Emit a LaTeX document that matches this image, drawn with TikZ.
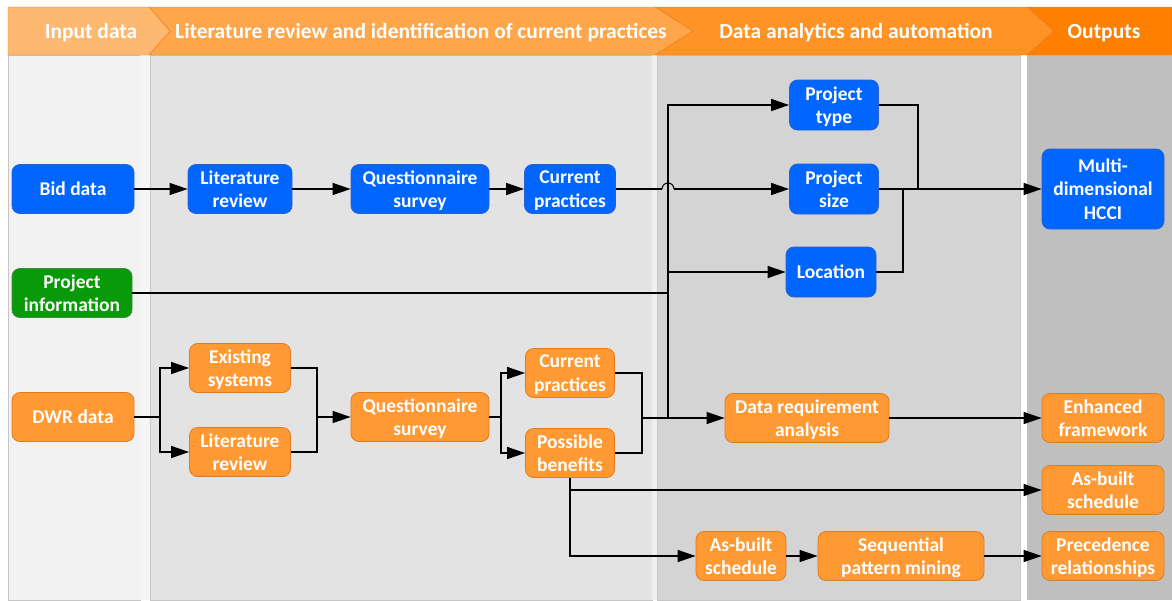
\documentclass[tikz,border=0pt]{standalone}
\usepackage{fontspec}
\setmainfont{Carlito}
\usetikzlibrary{arrows.meta,calc}
\definecolor{hdone}{HTML}{FFB870}
\definecolor{hdtwo}{HTML}{FFA54A}
\definecolor{hdthree}{HTML}{FF9326}
\definecolor{hdfour}{HTML}{FF8000}
\definecolor{hdline}{HTML}{E5781A}
\definecolor{laneone}{HTML}{F2F2F2}
\definecolor{lanetwo}{HTML}{E3E3E3}
\definecolor{lanethree}{HTML}{D4D4D4}
\definecolor{lanefour}{HTML}{BFBFBF}
\definecolor{nodeblue}{HTML}{0066FF}
\definecolor{nodeblueline}{HTML}{2A62C8}
\definecolor{nodeorange}{HTML}{FF9933}
\definecolor{nodeorangeline}{HTML}{E07A1E}
\definecolor{nodegreen}{HTML}{089A08}
\definecolor{nodegreenline}{HTML}{3C8C3C}

\begin{document}
\begin{tikzpicture}[x=1pt,y=-1pt,
    box/.style={rounded corners=8pt, line width=0.8pt, text=white, align=center,
        font=\fontsize{19.5}{23.5}\selectfont\bfseries, minimum height=49pt, inner sep=0pt,
        text depth=-2pt},
    bluebox/.style={box, fill=nodeblue, draw=nodeblueline},
    orangebox/.style={box, fill=nodeorange, draw=nodeorangeline},
    greenbox/.style={box, fill=nodegreen, draw=nodegreenline},
    headtext/.style={text=white, font=\fontsize{21.5}{25}\selectfont\bfseries},
    link/.style={line width=1.3pt},
    arr/.style={link, -{Triangle[length=18pt,width=12pt]}}]
    \useasboundingbox (0,0) rectangle (1172,600);
    % lanes
    \fill[white] (0,0) rectangle (1172,600);
    \draw[fill=laneone, draw=gray!45] (8,55) rectangle (140,600);
    \fill[gray!8] (140,55) rectangle (150,600);
    \draw[fill=lanetwo, draw=gray!45] (150,55) rectangle (652,600);
    \fill[gray!12] (652,55) rectangle (657,600);
    \draw[fill=lanethree, draw=gray!45] (657,55) rectangle (1020,600);
    \fill[lanefour] (1027,55) rectangle (1172,600);
    % header
    \draw[fill=hdfour, draw=hdline] (1027,7) -- (1172,7) -- (1172,55) -- (1027,55) -- (1054,31) -- cycle;
    \draw[fill=hdthree, draw=hdline] (655,7) -- (1027,7) -- (1054,31) -- (1027,55) -- (655,55) -- (693,31) -- cycle;
    \draw[fill=hdtwo, draw=hdline] (149,7) -- (655,7) -- (693,31) -- (655,55) -- (149,55) -- (170,31) -- cycle;
    \draw[fill=hdone, draw=hdline] (8,7) -- (149,7) -- (170,31) -- (149,55) -- (8,55) -- cycle;
    \node[headtext] (h1) at (91,33) {Input data};
    \node[headtext] (h2) at (421,33) {Literature review and identification of current practices};
    \node[headtext] (h3) at (856,33) {Data analytics and automation};
    \node[headtext] (h4) at (1104,33) {Outputs};

    % input data
    \node[bluebox, minimum width=122pt] (bid) at (73,189) {Bid data};
    \node[greenbox, minimum width=120pt] (pinfo) at (72,293) {Project\\information};
    \node[orangebox, minimum width=122pt] (dwr) at (73,417) {DWR data};
    % literature review
    \node[bluebox, minimum width=104pt] (lrb) at (240,189) {Literature\\review};
    \node[bluebox, minimum width=138pt] (qb) at (420,189) {Questionnaire\\survey};
    \node[bluebox, minimum width=91pt] (cpb) at (570,189) {Current\\practices};
    \node[orangebox, minimum width=101pt] (exs) at (240,368) {Existing\\systems};
    \node[orangebox, minimum width=101pt] (lro) at (240,452) {Literature\\review};
    \node[orangebox, minimum width=138pt] (qo) at (420,417) {Questionnaire\\survey};
    \node[orangebox, minimum width=89pt] (cpo) at (570,373) {Current\\practices};
    \node[orangebox, minimum width=89pt] (pb) at (570,453) {Possible\\benefits};
    % analytics
    \node[bluebox, minimum width=89pt, minimum height=50pt] (ptype) at (834,105) {Project\\type};
    \node[bluebox, minimum width=89pt, minimum height=50pt] (psize) at (834,189) {Project\\size};
    \node[bluebox, minimum width=90pt, minimum height=50pt] (loc) at (831,272) {Location};
    \node[orangebox, minimum width=164pt] (dra) at (807,418) {Data requirement\\analysis};
    \node[orangebox, minimum width=90pt] (abm) at (741,556) {As-built\\schedule};
    \node[orangebox, minimum width=166pt] (spm) at (901,556) {Sequential\\pattern mining};
    % outputs
    \node[bluebox, minimum width=122pt, minimum height=80pt] (hcci) at (1103,189) {Multi-\\dimensional\\HCCI};
    \node[orangebox, minimum width=122pt] (enh) at (1103,418) {Enhanced\\framework};
    \node[orangebox, minimum width=122pt] (abo) at (1103,490) {As-built\\schedule};
    \node[orangebox, minimum width=122pt] (prec) at (1103,556) {Precedence\\relationships};

    % bid data branch
    \draw[arr] (bid) -- (lrb);
    \draw[arr] (lrb) -- (qb);
    \draw[arr] (qb) -- (cpb);
    \coordinate (hop) at (668,189);
    \draw[link] (cpb.east) -- ($(hop)+(-6,0)$);
    \draw[line width=1pt] ($(hop)+(-6,0)$) arc[start angle=180, end angle=0, radius=6pt];
    \draw[arr] ($(hop)+(6,0)$) -- (psize.west);
    % project information bus
    \coordinate (bus) at (668,293);
    \draw[link] (pinfo.east) -- (bus);
    \draw[arr] (bus) |- (ptype.west);
    \draw[arr] (bus |- loc.west) -- (loc.west);
    \draw[link] (bus) -- (bus |- dra.west);
    % merge into HCCI
    \coordinate (tmrg) at (918,189);
    \coordinate (lmrg) at (903,189);
    \draw[link] (ptype.east) -| (tmrg);
    \draw[link] (loc.east) -| (lmrg);
    \draw[arr] (psize) -- (hcci);
    % DWR branch
    \coordinate (dfork) at (160,417);
    \draw[link] (dwr.east) -- (dfork);
    \draw[arr] (dfork) |- (exs.west);
    \draw[arr] (dfork) |- (lro.west);
    \coordinate (qin) at (317,417);
    \draw[link] (exs.east) -| (qin);
    \draw[link] (lro.east) -| (qin);
    \draw[arr] (qin) -- (qo.west);
    \coordinate (qfork) at (501,417);
    \draw[link] (qo.east) -- (qfork);
    \draw[arr] (qfork) |- (cpo.west);
    \draw[arr] (qfork) |- (pb.west);
    \coordinate (dmrg) at (642,418);
    \draw[link] (cpo.east) -| (dmrg);
    \draw[link] (pb.east) -| (dmrg);
    \draw[arr] (dmrg) -- (dra.west);
    \draw[arr] (dra) -- (enh);
    \draw[arr] (pb.south) |- (abo.west);
    \draw[arr] (pb.south) |- (abm.west);
    \draw[arr] (abm) -- (spm);
    \draw[arr] (spm) -- (prec);
\end{tikzpicture}
\end{document}
